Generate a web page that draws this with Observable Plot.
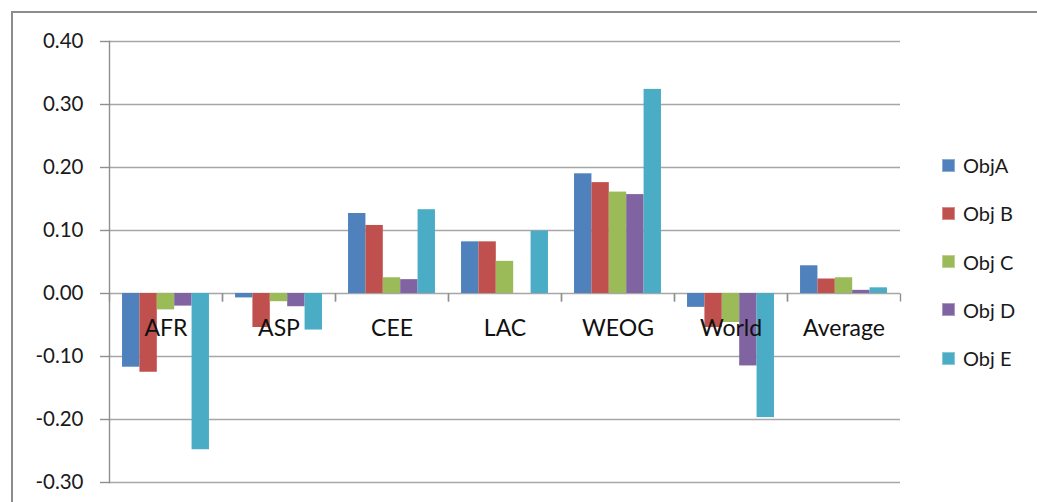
<!DOCTYPE html>
<html>
<head>
<meta charset="utf-8">
<script src="https://cdn.jsdelivr.net/npm/d3@7"></script>
<script src="https://cdn.jsdelivr.net/npm/@observablehq/plot@0.6"></script>
<style>
  html, body { margin: 0; padding: 0; background: #fff; }
  #wrap { position: relative; width: 1037px; height: 502px; overflow: hidden; background: #fff; font-family: Lato, "Open Sans", sans-serif; }
  #frame { position: absolute; left: 11px; top: 11px; width: 1100px; height: 600px; border-left: 2px solid #8c8c8c; border-top: 2px solid #8c8c8c; box-sizing: border-box; }
  #chart { position: absolute; left: 0; top: 0; }
  #legend { position: absolute; left: 942px; top: 150px; }
  .li { display: flex; align-items: center; height: 30px; margin-bottom: 18.3px; font-size: 20px; color: #1a1a1a; }
  .sw { width: 13px; height: 13px; margin-right: 8px; box-sizing: border-box; border: 1px solid rgba(255,255,255,0.35); }
</style>
</head>
<body>
<div id="wrap">
  <div id="frame"></div>
  <div id="chart"></div>
  <div id="legend"></div>
</div>
<script>
const categories = ["AFR", "ASP", "CEE", "LAC", "WEOG", "World", "Average"];
const series = ["ObjA", "Obj B", "Obj C", "Obj D", "Obj E"];
const colors = ["#4F81BD", "#C0504D", "#9BBB59", "#8064A2", "#4BACC6"];
const objA = [-0.117, -0.007, 0.127, 0.082, 0.190, -0.022, 0.044];
const objB = [-0.125, -0.054, 0.108, 0.082, 0.176, -0.054, 0.023];
const objC = [-0.026, -0.013, 0.025, 0.051, 0.161, -0.046, 0.025];
const objD = [-0.020, -0.021, 0.022, 0.000, 0.157, -0.115, 0.005];
const objE = [-0.248, -0.058, 0.133, 0.099, 0.324, -0.197, 0.009];
const yTicks = [-0.30, -0.20, -0.10, 0.00, 0.10, 0.20, 0.30, 0.40];

const valueArrays = [objA, objB, objC, objD, objE];
const data = [];
categories.forEach((c, i) => {
  series.forEach((s, j) => data.push({category: c, series: s, value: valueArrays[j][i]}));
});

const tickSymbol = { draw(ctx) { ctx.moveTo(0, 0); ctx.lineTo(0, 8); } };
const axisGray = "#8f8f8f";

const chart = Plot.plot({
  width: 1037,
  height: 502,
  marginLeft: 109,
  marginRight: 137,
  marginTop: 41,
  marginBottom: 20,
  style: { fontFamily: "Lato, 'Open Sans', sans-serif", background: "transparent", overflow: "visible" },
  fx: { domain: categories, paddingInner: 0, paddingOuter: 0, round: false, axis: null },
  x: { domain: series, paddingInner: 0, paddingOuter: 0.75, round: false, axis: null },
  y: { domain: [-0.30, 0.40], axis: null },
  color: { domain: series, range: colors },
  marks: [
    Plot.ruleY(yTicks, { stroke: "#a6a6a6", strokeWidth: 1.4 }),
    Plot.barY(data, { fx: "category", x: "series", y: "value", fill: "series" }),
    Plot.frame({ anchor: "left", facetAnchor: "left", stroke: axisGray, strokeWidth: 1.4 }),
    Plot.axisY({ ticks: yTicks, tickFormat: d => d.toFixed(2), tickSize: 9, tickPadding: 17, fontSize: 20.5, stroke: axisGray, strokeWidth: 1.4, color: "#1a1a1a", label: null, facetAnchor: "left" }),
    Plot.dot(categories, { fx: d => d, y: () => 0, frameAnchor: "left", symbol: tickSymbol, stroke: axisGray, strokeWidth: 1.4, fill: "none" }),
    Plot.dot(categories, { fx: d => d, y: () => 0, frameAnchor: "right", symbol: tickSymbol, stroke: axisGray, strokeWidth: 1.4, fill: "none" }),
    Plot.text(categories, { fx: d => d, y: () => 0, text: d => d, dy: 35, fontSize: 23, fill: "#111" })
  ]
});
document.getElementById("chart").appendChild(chart);

const legend = document.getElementById("legend");
series.forEach((s, j) => {
  const row = document.createElement("div");
  row.className = "li";
  const sw = document.createElement("span");
  sw.className = "sw";
  sw.style.background = colors[j];
  const t = document.createElement("span");
  t.textContent = s;
  row.appendChild(sw);
  row.appendChild(t);
  legend.appendChild(row);
});
</script>
</body>
</html>
